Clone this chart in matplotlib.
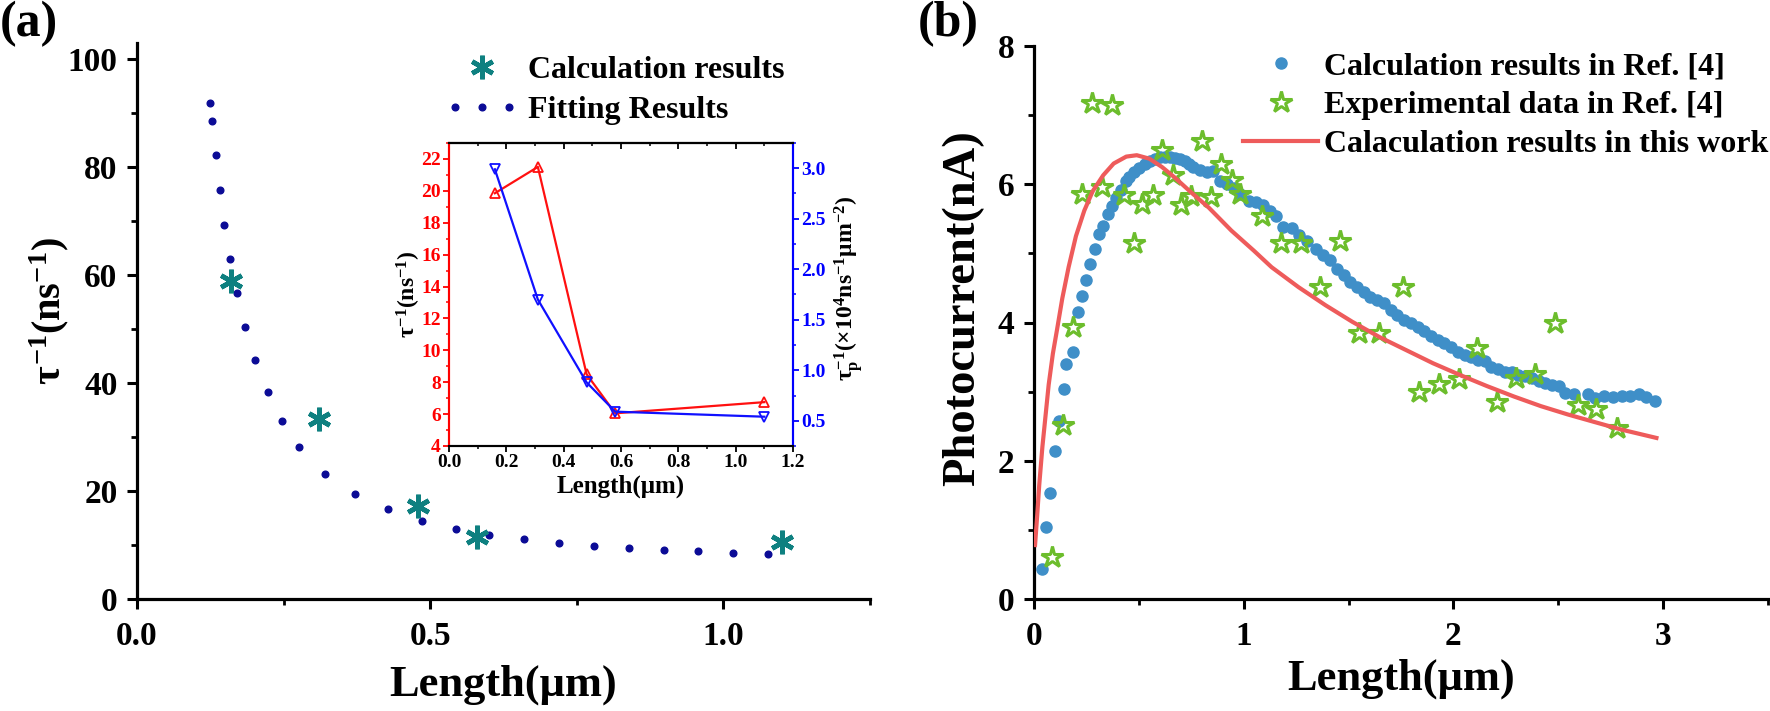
import matplotlib
matplotlib.use("Agg")
import matplotlib.pyplot as plt
from matplotlib.legend_handler import HandlerLine2D
from matplotlib.ticker import MultipleLocator

plt.rcParams.update({
    "font.family": ["Liberation Serif", "DejaVu Serif"],
    "font.weight": "bold",
    "axes.labelweight": "bold",
    "mathtext.fontset": "custom",
    "mathtext.rm": "Liberation Serif:bold",
    "mathtext.it": "Liberation Serif:bold",
    "mathtext.bf": "Liberation Serif:bold",
    "axes.unicode_minus": True,
})

# ---------------- data: panel (a) ----------------
calc_len = [0.16, 0.31, 0.48, 0.58, 1.10]
calc_tau = [59.0, 33.4, 17.3, 11.4, 10.5]

fit_len = [0.124, 0.128, 0.135, 0.142, 0.149, 0.159, 0.171, 0.184, 0.202, 0.223,
           0.247, 0.277, 0.321, 0.371, 0.428, 0.486, 0.544, 0.601, 0.660, 0.719,
           0.780, 0.839, 0.898, 0.957, 1.016, 1.076]
fit_tau = [91.9, 88.5, 82.3, 75.8, 69.3, 63.0, 56.6, 50.4, 44.3, 38.4,
           32.9, 28.1, 23.2, 19.4, 16.6, 14.4, 13.0, 11.9, 11.1, 10.4,
           9.9, 9.4, 9.1, 8.8, 8.5, 8.3]

# inset
inset_len = [0.16, 0.31, 0.48, 0.58, 1.10]
inset_tau = [19.85, 21.5, 8.5, 6.05, 6.75]
inset_taup = [2.99, 1.70, 0.88, 0.59, 0.54]

# ---------------- data: panel (b) ----------------
ref_len = [0.037, 0.056, 0.075, 0.099, 0.120, 0.141, 0.152, 0.184, 0.208, 0.228,
           0.248, 0.268, 0.291, 0.312, 0.331, 0.351, 0.372, 0.391, 0.415, 0.439,
           0.455, 0.479, 0.503, 0.527, 0.551, 0.575, 0.599, 0.623, 0.647, 0.671,
           0.695, 0.719, 0.740, 0.759, 0.791, 0.823, 0.855, 0.887, 0.920, 0.952,
           0.984, 1.027, 1.059, 1.091, 1.123, 1.155, 1.187, 1.230, 1.262, 1.304,
           1.347, 1.379, 1.411, 1.444, 1.476, 1.508, 1.540, 1.572, 1.604, 1.636,
           1.668, 1.700, 1.732, 1.764, 1.796, 1.829, 1.861, 1.893, 1.925, 1.957,
           1.989, 2.021, 2.053, 2.085, 2.117, 2.149, 2.181, 2.213, 2.246, 2.278,
           2.310, 2.342, 2.374, 2.406, 2.438, 2.470, 2.502, 2.534, 2.577, 2.641,
           2.673, 2.716, 2.759, 2.802, 2.844, 2.887, 2.919, 2.962]
ref_cur = [0.44, 1.04, 1.54, 2.14, 2.58, 3.04, 3.40, 3.57, 4.15, 4.38,
           4.62, 4.85, 5.06, 5.28, 5.39, 5.57, 5.68, 5.80, 5.91, 6.04,
           6.11, 6.17, 6.24, 6.30, 6.34, 6.37, 6.40, 6.40, 6.40, 6.38,
           6.37, 6.34, 6.30, 6.25, 6.20, 6.17, 6.19, 6.05, 6.00, 5.95,
           5.86, 5.76, 5.74, 5.70, 5.62, 5.54, 5.38, 5.37, 5.26, 5.18,
           5.06, 4.97, 4.90, 4.78, 4.68, 4.59, 4.51, 4.44, 4.37, 4.32,
           4.28, 4.18, 4.11, 4.03, 3.99, 3.94, 3.87, 3.80, 3.75, 3.71,
           3.65, 3.58, 3.53, 3.50, 3.46, 3.44, 3.36, 3.33, 3.29, 3.28,
           3.24, 3.22, 3.20, 3.16, 3.13, 3.10, 3.08, 2.98, 2.96, 2.96,
           2.91, 2.93, 2.92, 2.93, 2.93, 2.96, 2.92, 2.87]

exp_len = [0.088, 0.139, 0.184, 0.228, 0.276, 0.324, 0.372, 0.431, 0.479, 0.516,
           0.567, 0.610, 0.663, 0.703, 0.749, 0.802, 0.845, 0.890, 0.945, 0.984,
           1.086, 1.180, 1.272, 1.365, 1.458, 1.550, 1.647, 1.760, 1.835, 1.929,
           2.026, 2.113, 2.207, 2.299, 2.391, 2.485, 2.592, 2.678, 2.780]
exp_cur = [0.61, 2.52, 3.93, 5.86, 7.18, 5.96, 7.14, 5.84, 5.15, 5.71,
           5.85, 6.49, 6.14, 5.70, 5.83, 6.62, 5.82, 6.30, 6.06, 5.86,
           5.54, 5.15, 5.15, 4.51, 5.18, 3.85, 3.85, 4.51, 3.00, 3.11,
           3.18, 3.63, 2.85, 3.19, 3.26, 4.00, 2.81, 2.75, 2.48]

work_len = [0.005, 0.015, 0.025, 0.040, 0.055, 0.070, 0.090, 0.110, 0.135, 0.165,
            0.200, 0.240, 0.280, 0.330, 0.380, 0.440, 0.490, 0.550, 0.610, 0.670,
            0.750, 0.834, 0.941, 1.048, 1.133, 1.262, 1.390, 1.518, 1.647, 1.775,
            1.903, 2.032, 2.160, 2.288, 2.417, 2.545, 2.673, 2.802, 2.968]
work_cur = [0.78, 1.20, 1.65, 2.20, 2.65, 3.10, 3.55, 3.90, 4.35, 4.80,
            5.25, 5.62, 5.90, 6.13, 6.30, 6.40, 6.42, 6.37, 6.25, 6.10,
            5.88, 5.66, 5.33, 5.04, 4.80, 4.51, 4.25, 4.01, 3.79, 3.60,
            3.41, 3.24, 3.08, 2.93, 2.79, 2.67, 2.56, 2.45, 2.33]

# ---------------- figure ----------------
W, H = 1770, 711
fig = plt.figure(figsize=(W / 100, H / 100), dpi=100)


def px_axes(l, r, t, b):
    return [l / W, 1 - b / H, (r - l) / W, (b - t) / H]


TICK_FS = 24
LEG_FS = 23


def style_main(ax):
    for s in ["top", "right"]:
        ax.spines[s].set_visible(False)
    for s in ["left", "bottom"]:
        ax.spines[s].set_linewidth(2.3)
    ax.tick_params(which="major", direction="out", length=7, width=2.2,
                   labelsize=TICK_FS)
    ax.tick_params(axis="x", which="major", pad=9)
    ax.tick_params(axis="y", which="major", pad=7)
    ax.tick_params(which="minor", direction="out", length=4, width=2.0)


# ---------- panel (a) ----------
axa = fig.add_axes(px_axes(137, 870, 43, 599))
style_main(axa)
fit_line, = axa.plot(fit_len, fit_tau, ls="none", marker="o", ms=4.8,
                     color="#0b0b96", label="Fitting Results", zorder=2)
calc_line, = axa.plot(calc_len, calc_tau, ls="none", marker=(6, 2, 0), ms=17,
                      mew=3.4, color="#0e8080", label="Calculation results", zorder=3)
axa.set_xlim(0, 1.25)
axa.set_ylim(0, 103)
axa.xaxis.set_major_locator(MultipleLocator(0.5))
axa.xaxis.set_minor_locator(MultipleLocator(0.25))
axa.yaxis.set_major_locator(MultipleLocator(20))
axa.yaxis.set_minor_locator(MultipleLocator(10))
axa.xaxis.set_major_formatter(plt.FuncFormatter(lambda v, p: f"{v:.1f}"))
axa.set_xlabel("Length(μm)", fontsize=32, fontweight="bold")
axa.set_ylabel("$τ^{-1}$(ns$^{-1}$)", fontsize=29, fontweight="bold")
axa.xaxis.set_label_coords(0.5, -0.118)
axa.yaxis.set_label_coords(-0.09, 0.518)
axa.legend(handles=[calc_line, fit_line], loc="upper left",
           bbox_to_anchor=(445 / W, 1 - 56 / H), bbox_transform=fig.transFigure,
           frameon=False, fontsize=LEG_FS, handlelength=2.3, handletextpad=0.3,
           labelspacing=0.33, borderpad=0, borderaxespad=0,
           handler_map={fit_line: HandlerLine2D(numpoints=3)})

# inset
axi = fig.add_axes(px_axes(449, 793, 143, 446))
axi.plot(inset_len, inset_tau, color="#ff1010", lw=1.6, marker="^", ms=7,
         mfc="none", mew=1.3)
axi.set_xlim(0, 1.2)
axi.set_ylim(4, 23)
axi.xaxis.set_major_locator(MultipleLocator(0.2))
axi.xaxis.set_minor_locator(MultipleLocator(0.1))
axi.yaxis.set_major_locator(MultipleLocator(2))
axi.yaxis.set_minor_locator(MultipleLocator(1))
axi.xaxis.set_major_formatter(plt.FuncFormatter(lambda v, p: f"{v:.1f}"))
axi.tick_params(axis="both", which="major", length=4, width=1.3, labelsize=14, pad=2)
axi.tick_params(axis="both", which="minor", length=2.5, width=1.1)
axi.tick_params(axis="y", which="both", colors="#ff0000", labelcolor="#ff0000")
axi.spines["left"].set_color("#ff0000")
axi.spines["right"].set_color("#0000ff")
for s in axi.spines.values():
    s.set_linewidth(1.5)
axi.set_xlabel("Length(μm)", fontsize=18, fontweight="bold", labelpad=2)
axi.set_ylabel("$τ^{-1}$(ns$^{-1}$)", fontsize=17, fontweight="bold")
axi.yaxis.set_label_coords(-0.075, 0.5)

top = axi.secondary_xaxis("top")
top.xaxis.set_major_locator(MultipleLocator(0.2))
top.xaxis.set_minor_locator(MultipleLocator(0.1))
top.tick_params(which="major", direction="in", length=4, width=1.3, labeltop=False)
top.tick_params(which="minor", direction="in", length=2.5, width=1.1)
top.spines["top"].set_linewidth(1.5)

axr = axi.twinx()
axr.plot(inset_len, inset_taup, color="#1010ff", lw=1.6, marker="v", ms=7,
         mfc="none", mew=1.3)
axr.set_ylim(0.25, 3.25)
axr.yaxis.set_major_locator(MultipleLocator(0.5))
axr.yaxis.set_minor_locator(MultipleLocator(0.25))
axr.tick_params(axis="y", which="major", length=4, width=1.3, labelsize=14, pad=2,
                colors="#0000ff", labelcolor="#0000ff")
axr.tick_params(axis="y", which="minor", length=2.5, width=1.1, colors="#0000ff")
axr.spines["left"].set_color("#ff0000")
axr.spines["right"].set_color("#0000ff")
for s in axr.spines.values():
    s.set_linewidth(1.5)
axr.set_ylabel("$τ_p^{-1}$(×10$^4$ns$^{-1}$μm$^{-2}$)", fontsize=17, fontweight="bold",
               rotation=90)
axr.yaxis.set_label_coords(1.115, 0.52)

# ---------- panel (b) ----------
axb = fig.add_axes(px_axes(1034, 1768, 46, 599))
style_main(axb)
h1, = axb.plot(ref_len, ref_cur, ls="none", marker="o", ms=8, color="#3f8fc8",
               label="Calculation results in Ref. [4]", zorder=2)
h2, = axb.plot(exp_len, exp_cur, ls="none", marker="*", ms=16, mfc="none",
               mec="#6cbd2c", mew=2.2, label="Experimental data in Ref. [4]", zorder=3)
h3, = axb.plot(work_len, work_cur, color="#ee5b5b", lw=3.0,
               label="Calaculation results in this work", zorder=4)
axb.set_xlim(0, 3.5)
axb.set_ylim(0, 8)
axb.xaxis.set_major_locator(MultipleLocator(1))
axb.xaxis.set_minor_locator(MultipleLocator(0.5))
axb.yaxis.set_major_locator(MultipleLocator(2))
axb.yaxis.set_minor_locator(MultipleLocator(1))
axb.set_xlabel("Length(μm)", fontsize=32, fontweight="bold")
axb.set_ylabel("Photocurrent(nA)", fontsize=33.5, fontweight="bold")
axb.xaxis.set_label_coords(0.5, -0.108)
axb.yaxis.set_label_coords(-0.068, 0.526)
axb.legend(handles=[h1, h2, h3], loc="upper left",
           bbox_to_anchor=(1243 / W, 1 - 52 / H), bbox_transform=fig.transFigure,
           frameon=False, fontsize=LEG_FS, handlelength=2.35, handletextpad=0.2,
           labelspacing=0.3, borderpad=0, borderaxespad=0)

# panel letters
fig.text(0 / W, 1 - 24 / H, "(a)", fontsize=36, fontweight="bold", va="center", ha="left")
fig.text(918 / W, 1 - 24 / H, "(b)", fontsize=36, fontweight="bold", va="center", ha="left")

fig.savefig("out.png", dpi=100)
